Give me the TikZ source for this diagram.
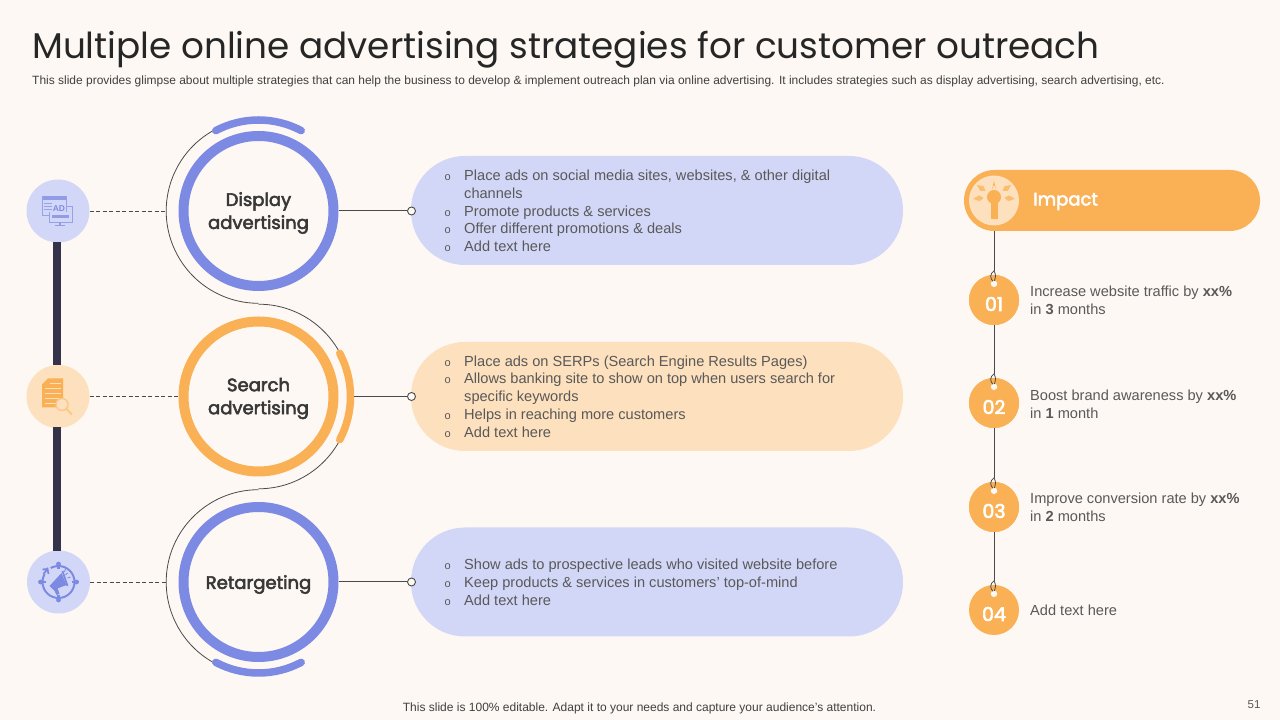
\documentclass[tikz,border=0pt]{standalone}
\usepackage{fontspec}
\setmainfont{Liberation Sans}
\newfontfamily\headfont{Poppins}
\newfontfamily\semifont[FakeBold=3]{Poppins}
\usetikzlibrary{calc}
\definecolor{bgc}{HTML}{FDF8F3}
\definecolor{blu}{HTML}{7D8AE3}
\definecolor{org}{HTML}{FAB155}
\definecolor{pblu}{HTML}{D3D7F7}
\definecolor{porg}{HTML}{FDE0BD}
\definecolor{barc}{HTML}{35334A}
\definecolor{txt}{HTML}{595959}
\definecolor{linec}{HTML}{4A4A4A}
\newcommand{\bul}[1]{\makebox[19.5pt][l]{\fontsize{11}{11}\selectfont o}#1}
\newcommand{\cont}[1]{\hspace*{19.5pt}#1}
\tikzset{
  x=1pt,y=1pt,
  ring/.style={circle,draw=#1,line width=10pt,minimum size=150pt,inner sep=0pt,fill=bgc},
  ringtxt/.style={inner sep=0pt,font=\semifont\fontsize{18}{23}\selectfont,text=black!78,align=center},
  iconbg/.style={circle,fill=#1,minimum size=63pt,inner sep=0pt},
  pill/.style={rectangle,fill=#1,minimum width=492pt,minimum height=109pt,rounded corners=54pt,inner sep=0pt},
  listtxt/.style={anchor=west,align=left,text=txt,inner sep=0pt,font=\fontsize{14.6}{17.75}\selectfont},
  imptxt/.style={anchor=west,align=left,text=txt,inner sep=0pt,font=\fontsize{14.6}{18}\selectfont},
  numc/.style={circle,fill=org,minimum size=50pt,inner sep=0pt},
  numt/.style={text=white,inner sep=0pt,font=\semifont\fontsize{19}{19}\selectfont},
  thick arc/.style={line width=7.5pt,line cap=round},
  thinl/.style={draw=linec,line width=0.8pt},
  lead/.style={draw=linec,line width=1pt},
  dashl/.style={draw=linec,line width=0.8pt,dash pattern=on 4pt off 2.5pt},
  endp/.style={circle,draw=linec,fill=bgc,line width=0.9pt,minimum size=8pt,inner sep=0pt},
  hole/.style={circle,fill=bgc,minimum size=6.5pt,inner sep=0pt},
}
\newcommand{\hookat}[1]{%
  \node[hole] at ($(#1.north)+(0,-9)$) {};
  \draw[thinl] ($(#1.north)+(0,4)$) .. controls ($(#1.north)+(-4.5,1)$) and ($(#1.north)+(-4,-4)$) .. ($(#1.north)+(-1,-6.5)$);
  \draw[thinl] ($(#1.north)+(0,4)$) .. controls ($(#1.north)+(2,0)$) and ($(#1.north)+(2,-3)$) .. ($(#1.north)+(0.5,-6)$);
}
\begin{document}
\begin{tikzpicture}
\useasboundingbox (0,0) rectangle (1280,720);
\fill[bgc] (0,0) rectangle (1280,720);

% title
\node[anchor=west,inner sep=0pt,text=black!85,font=\headfont\fontsize{35.8}{40}\selectfont] (title) at (32,670) {Multiple online advertising strategies for customer outreach};
\node[anchor=west,inner sep=0pt,text=black!75,font=\fontsize{11.98}{14}\selectfont] (sub) at (32,638.5) {This slide provides glimpse about multiple strategies that can help the business to develop \& implement outreach plan via online advertising. It includes strategies such as display advertising, search advertising, etc.};

% left icon circles
\node[iconbg=pblu] (i1) at (58,509) {};
\node[iconbg=porg] (i2) at (58,323.5) {};
\node[iconbg=pblu] (i3) at (58.5,138) {};
\fill[barc] (53,478) rectangle (61,355);
\fill[barc] (53,293) rectangle (61,169);

% rings
\node[ring=blu] (c1) at (258.5,509) {};
\node[ring=org] (c2) at (258.5,323.5) {};
\node[ring=blu] (c3) at (258.5,138) {};
\node[ringtxt] (tx1) at ($(c1)+(0,-2)$) {Display\\advertising};
\node[ringtxt] (tx2) at ($(c2)+(0,-2)$) {Search\\advertising};
\node[ringtxt] (tx3) at ($(c3)+(0,-2.5)$) {Retargeting};

% serpentine thin line
\draw[thinl] ($(c1)+(118:92.3)$) arc[start angle=118,end angle=270,radius=92.3];
\draw[thinl] ($(c2)+(90:92.3)$) arc[start angle=90,end angle=-90,radius=92.3];
\draw[thinl] ($(c3)+(90:92.3)$) arc[start angle=90,end angle=242,radius=92.3];
% thick arcs
\draw[thick arc,blu] ($(c1)+(118:91)$) arc[start angle=118,end angle=62,radius=91];
\draw[thick arc,org] ($(c2)+(28:92)$) arc[start angle=28,end angle=-28,radius=92];
\draw[thick arc,blu] ($(c3)+(242:91)$) arc[start angle=242,end angle=298,radius=91];

% pills
\node[pill=pblu] (p1) at (657,509.5) {};
\node[pill=porg] (p2) at (657,323.5) {};
\node[pill=pblu] (p3) at (657,138) {};
\node[endp] (e1) at (411.5,509) {};
\node[endp] (e2) at (411.5,323.5) {};
\node[endp] (e3) at (411.5,138) {};
\coordinate (t1) at (166.2,509);
\coordinate (t3) at (166.2,138);
\draw[dashl] (i1) -- (t1);
\draw[dashl] (i2) -- (c2);
\draw[dashl] (i3) -- (t3);
\coordinate (a2) at (354,323.5);
\draw[lead] (c1) -- (e1);
\draw[lead] (a2) -- (e2);
\draw[lead] (c3) -- (e3);

\node[listtxt] (l1) at (444.5,509) {\bul{Place ads on social media sites, websites, \& other digital}\\\cont{channels}\\\bul{Promote products \& services}\\\bul{Offer different promotions \& deals}\\\bul{Add text here}};
\node[listtxt] (l2) at (444.5,323.5) {\bul{Place ads on SERPs (Search Engine Results Pages)}\\\bul{Allows banking site to show on top when users search for}\\\cont{specific keywords}\\\bul{Helps in reaching more customers}\\\bul{Add text here}};
\node[listtxt] (l3) at (444.5,137.5) {\bul{Show ads to prospective leads who visited website before}\\\bul{Keep products \& services in customers’ top-of-mind}\\\bul{Add text here}};

% impact
\node[rectangle,fill=org,minimum width=296pt,minimum height=61pt,rounded corners=30.4pt,inner sep=0pt] (imp) at (1112,519.5) {};
\node[circle,fill=porg,minimum size=50pt,inner sep=0pt] (impc) at (994,519.5) {};
\node[anchor=west,inner sep=0pt,text=white,font=\semifont\fontsize{18}{19}\selectfont] (impt) at (1033,518.5) {Impact};
\node[numc] (n1) at (994,420) {};
\node[numc] (n2) at (994,317) {};
\node[numc] (n3) at (994,213) {};
\node[numc] (n4) at (994,110) {};
\draw[thinl] (imp.south -| n1.north) -- ($(n1.north)+(0,4)$);
\draw[thinl] (n1) -- ($(n2.north)+(0,4)$);
\draw[thinl] (n2) -- ($(n3.north)+(0,4)$);
\draw[thinl] (n3) -- ($(n4.north)+(0,4)$);
\node[numc] at (n1) {};
\node[numc] at (n2) {};
\node[numc] at (n3) {};
\hookat{n1}\hookat{n2}\hookat{n3}\hookat{n4}
\node[numt] at ($(n1)+(0,-4)$) {01};
\node[numt] at ($(n2)+(0,-4)$) {02};
\node[numt] at ($(n3)+(0,-4)$) {03};
\node[numt] at ($(n4)+(0,-4)$) {04};
\node[imptxt] at (1030,420) {Increase website traffic by \textbf{xx\%}\\in \textbf{3} months};
\node[imptxt] at (1030,316) {Boost brand awareness by \textbf{xx\%}\\in \textbf{1} month};
\node[imptxt] at (1030,213) {Improve conversion rate by \textbf{xx\%}\\in \textbf{2} months};
\node[imptxt] at (1030,110) {Add text here};

% footer
\node[inner sep=0pt,text=black!75,font=\fontsize{12}{14}\selectfont] (foot) at (639.5,11.5) {This slide is 100\% editable. Adapt it to your needs and capture your audience’s attention.};
\node[inner sep=0pt,text=txt,font=\fontsize{11.5}{13}\selectfont] (pg) at (1254,15) {51};

% icon: AD
\begin{scope}[shift={(i1.center)}]
  \draw[blu!80!white,line width=0.9pt] (-15.5,15) rectangle (8,-4);
  \fill[blu!85!white] (-15.5,15) rectangle (8,10.5);
  \draw[blu!80!white,line width=0.8pt] (-14.5,7.5) -- (-6,7.5) (-14.5,4.5) -- (-6,4.5) (-14.5,1.5) -- (-6,1.5);
  \fill[pblu] (-9,-1) rectangle (14,-11.5);
  \draw[blu!80!white,line width=0.9pt] (-9,-1) -- (-9,-11.5) -- (14,-11.5) -- (14,4.5) -- (8,4.5);
  \fill[blu!85!white] (-6.5,-4.5) rectangle (11,-7.5);
  \fill[blu!85!white] (1,-11.5) rectangle (3,-14.5);
  \fill[blu!85!white] (-3,-14) rectangle (7,-15.5);
  \node[inner sep=0pt,text=blu,font=\bfseries\fontsize{8.5}{9}\selectfont] (adt) at (1,2.5) {AD};
\end{scope}

% icon: document and magnifier
\begin{scope}[shift={(i2.center)}]
  \fill[org] (-10,18) -- (5,18) -- (5,-11) -- (-16,-11) -- (-16,12) -- cycle;
  \draw[porg,line width=0.8pt] (-8,13) -- (3,13) (-13,8) -- (3,8) (-13,3) -- (3,3) (-13,-2) -- (1,-2) (-13,-7) -- (-2,-7);
  \draw[org!70!white,line width=1.4pt,fill=porg] (4,-8) circle (6);
  \draw[org!70!white,line width=1.8pt] (8.5,-12.5) -- (14,-18);
\end{scope}

% icon: target with megaphone
\begin{scope}[shift={(i3.center)}]
  \draw[blu,line width=2pt] (0,0) circle (16);
  \foreach \a in {0,90,180,270}{
    \draw[blu,line width=2.2pt] (\a:13) -- (\a:20);
    \fill[blu] (\a:18) circle (2.4);
  }
  \fill[pblu] (135:16) circle (4.5);
  \draw[blu,line width=1.8pt] (-15,8) -- (-11,13) -- (-10,8) (-11,13) -- (-16,12.5);
  \fill[blu] (-9,-4) -- (3,9) -- (8,-3) -- (-5,-8) -- cycle;
  \fill[blu] (-5,-7) -- (-1,-6) -- (1,-12) -- (-2,-13) -- cycle;
  \draw[blu,line width=1.8pt] (4,11) -- (9,-4);
  \draw[blu,line width=0.9pt] (7,7) -- (9,9) (9,4) -- (12,5) (6,10) -- (7,13);
\end{scope}

% icon: bulb
\begin{scope}[shift={(impc.center)}]
  \fill[org] (0,3.5) circle (7);
  \fill[org] (-3.5,3) rectangle (3.5,-19);
  \fill[org] (0,16) -- (2,11) -- (0,19.5) -- (-2,11) -- cycle;
  \foreach \a in {35,145,-5,185}{
    \fill[org!85!white] ($(0,3.5)+(\a:10.5)$) -- ($(0,3.5)+(\a+11:15)$) -- ($(0,3.5)+(\a:21)$) -- ($(0,3.5)+(\a-11:15)$) -- cycle;
  }
\end{scope}
\end{tikzpicture}
\end{document}
